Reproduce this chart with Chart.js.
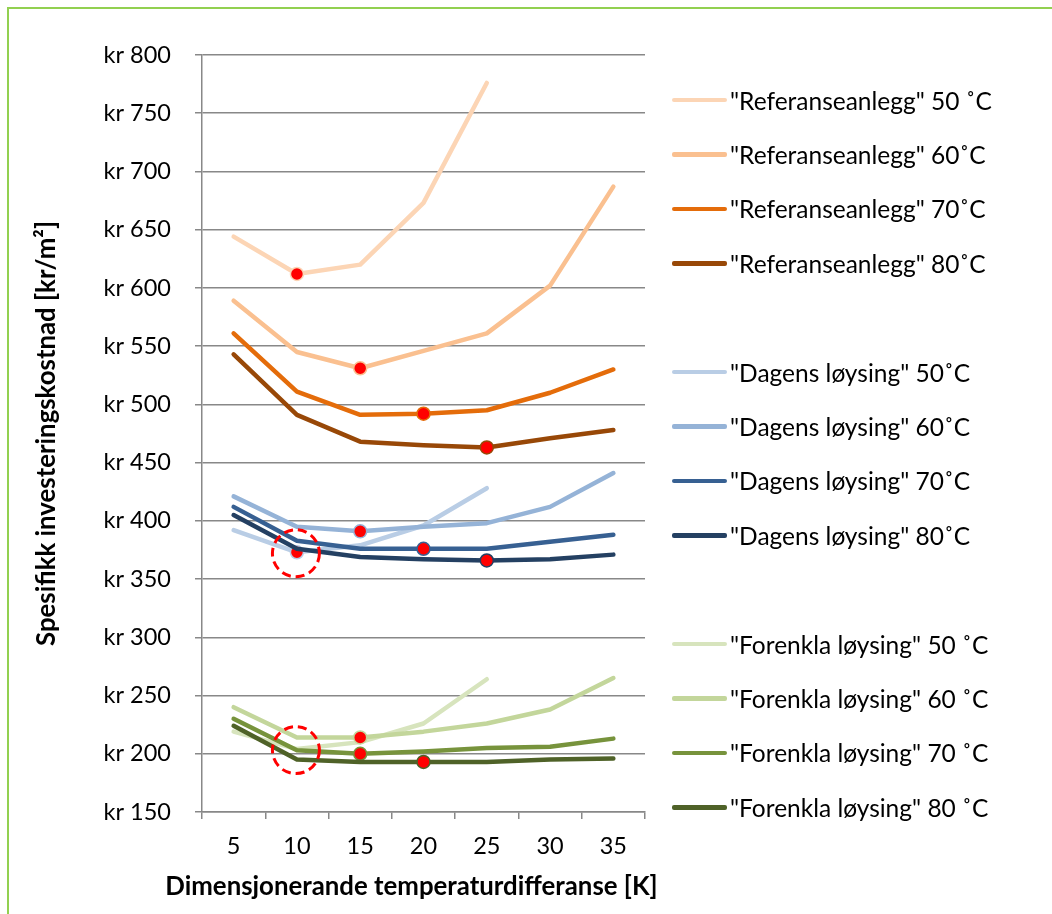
<!DOCTYPE html>
<html>
<head>
<meta charset="utf-8">
<script src="https://cdn.jsdelivr.net/npm/chart.js@4"></script>
<style>
  html, body { margin: 0; padding: 0; background: #fff; overflow: hidden; }
  #wrap { position: relative; width: 1052px; height: 914px; }
  #frame { position: absolute; left: 7px; top: 7px; width: 1100px; height: 1000px; border: 2px solid #92d050; }
  #chart { position: absolute; left: 0; top: 0; }
  #legend { position: absolute; left: 672px; top: 73px; font-family: Lato, sans-serif; font-size: 24.5px; color: #000; }
  .item { height: 54.4px; display: flex; align-items: center; white-space: nowrap; }
  .swatch { width: 55px; height: 4.5px; border-radius: 2px; margin-right: 3px; }
  #xtitle { position: absolute; left: 0; width: 823px; top: 869px; line-height: 32px; text-align: center;
            font-family: Lato, sans-serif; font-weight: bold; font-size: 25.8px; color: #000; white-space: nowrap; }
</style>
</head>
<body>
<div id="wrap">
  <div id="frame"></div>
  <canvas id="chart" width="1052" height="914"></canvas>
  <div id="legend"></div>
  <div id="xtitle">Dimensjonerande temperaturdifferanse [K]</div>
</div>
<script>
document.addEventListener('DOMContentLoaded', function () {
    // x-akse: dimensjonerande temperaturdifferanse
    const tempDiff = ['5', '10', '15', '20', '25', '30', '35'];

    // "Referanseanlegg"
    const ref50 = [644, 612, 620, 673, 776, null, null];
    const ref60 = [589, 545, 531, 546, 561, 602, 687];
    const ref70 = [561, 511, 491, 492, 495, 510, 530];
    const ref80 = [543, 491, 468, 465, 463, 471, 478];

    // "Dagens løysing"
    const dag50 = [392, 373, 379, 396, 428, null, null];
    const dag60 = [421, 395, 391, 395, 398, 412, 441];
    const dag70 = [412, 383, 376, 376, 376, 382, 388];
    const dag80 = [405, 376, 369, 367, 366, 367, 371];

    // "Forenkla løysing"
    const for50 = [219, 204, 210, 226, 264, null, null];
    const for60 = [240, 214, 214, 219, 226, 238, 265];
    const for70 = [230, 203, 200, 202, 205, 206, 213];
    const for80 = [224, 195, 193, 193, 193, 195, 196];

    const seriesNames = [
        '"Referanseanlegg" 50 ˚C', '"Referanseanlegg" 60˚C', '"Referanseanlegg" 70˚C', '"Referanseanlegg" 80˚C',
        '"Dagens løysing" 50˚C', '"Dagens løysing" 60˚C', '"Dagens løysing" 70˚C', '"Dagens løysing" 80˚C',
        '"Forenkla løysing" 50 ˚C', '"Forenkla løysing" 60 ˚C', '"Forenkla løysing" 70 ˚C', '"Forenkla løysing" 80 ˚C'
    ];
    const seriesValues = [ref50, ref60, ref70, ref80, dag50, dag60, dag70, dag80, for50, for60, for70, for80];
    const seriesColors = [
        '#fcd5b5', '#fac090', '#e46c0a', '#984807',
        '#b9cde5', '#95b3d7', '#376092', '#244062',
        '#d7e4bd', '#c3d69b', '#77933c', '#4f6228'
    ];
    // optimum (raud prikk) per serie, indeks i tempDiff
    const optimum = [1, 2, 3, 4, 1, 2, 3, 4, -1, 2, 2, 3];
    // stipla sirklar rundt desse punkta
    const circled = [[4, 1], [8, 1]];

    const datasets = seriesValues.map((vals, i) => ({
        label: seriesNames[i],
        data: vals,
        borderColor: seriesColors[i],
        borderWidth: 4.5,
        borderCapStyle: 'round',
        borderJoinStyle: 'round',
        tension: 0,
        spanGaps: false,
        order: seriesValues.length - i,
        pointRadius: vals.map((v, j) => j === optimum[i] ? 6.5 : 0),
        pointBackgroundColor: '#ff0000',
        pointBorderColor: seriesColors[i],
        pointBorderWidth: 1.5,
        pointHoverRadius: 0
    }));

    const circlePlugin = {
        id: 'circles',
        afterDatasetsDraw(chart) {
            const ctx = chart.ctx;
            ctx.save();
            ctx.strokeStyle = '#ff0000';
            ctx.lineWidth = 3;
            ctx.setLineDash([9, 5]);
            circled.forEach(([ds, idx]) => {
                const pt = chart.getDatasetMeta(ds).data[idx];
                ctx.beginPath();
                ctx.arc(pt.x - 1, pt.y + 1, 23.5, 0, Math.PI * 2);
                ctx.stroke();
            });
            ctx.restore();
        }
    };

    new Chart(document.getElementById('chart'), {
        type: 'line',
        data: { labels: tempDiff, datasets: datasets },
        options: {
            responsive: false,
            animation: false,
            layout: { padding: { left: 0, top: 55, right: 407, bottom: 0 } },
            plugins: { legend: { display: false }, tooltip: { enabled: false } },
            scales: {
                x: {
                    offset: true,
                    grid: { display: true, drawOnChartArea: false, drawTicks: true, tickLength: 7, offset: true, color: '#888888', lineWidth: 1.5 },
                    border: { display: true, color: '#888888', width: 1.5 },
                    ticks: { color: '#000', padding: 13, font: { family: 'Lato', size: 23.5 } },
                    title: { display: false },
                    afterFit(scale) { scale.height = 102; }
                },
                y: {
                    min: 150,
                    max: 800,
                    ticks: { stepSize: 50, color: '#000', padding: 24, font: { family: 'Lato', size: 23.5 },
                             callback: v => 'kr ' + v },
                    grid: { color: '#888888', lineWidth: 1.5, tickLength: 7 },
                    border: { display: true, color: '#888888', width: 1.5 },
                    title: { display: true, text: 'Spesifikk investeringskostnad [kr/m²]', color: '#000',
                             font: { family: 'Lato', size: 25.8, weight: 'bold' }, padding: { top: 31.5, bottom: 0 } },
                    afterFit(scale) { scale.width = 202; }
                }
            }
        },
        plugins: [circlePlugin]
    });

    // legende med tomme rader mellom gruppene
    const legend = document.getElementById('legend');
    seriesNames.forEach((name, i) => {
        if (i > 0 && i % 4 === 0) {
            const gap = document.createElement('div');
            gap.className = 'item';
            legend.appendChild(gap);
        }
        const row = document.createElement('div');
        row.className = 'item';
        const sw = document.createElement('span');
        sw.className = 'swatch';
        sw.style.background = seriesColors[i];
        const txt = document.createElement('span');
        txt.textContent = name;
        row.appendChild(sw);
        row.appendChild(txt);
        legend.appendChild(row);
    });
});
</script>
</body>
</html>
